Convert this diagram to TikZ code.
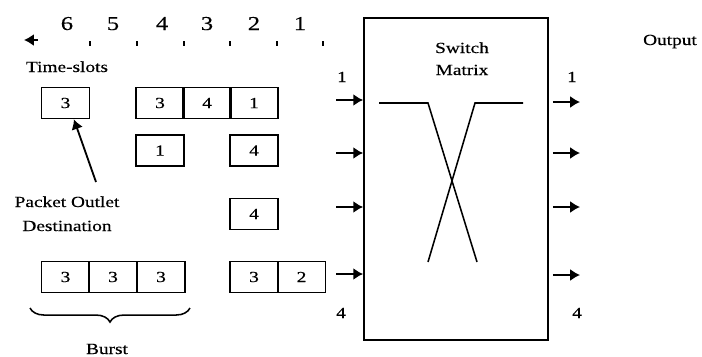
\documentclass[tikz,border=0pt]{standalone}
\usepackage{fontspec}
\setmainfont{Liberation Serif}[FakeStretch=1.25,FakeBold=0.4]
\usetikzlibrary{arrows.meta,decorations.pathreplacing}
\begin{document}
\begin{tikzpicture}[x=0.025cm,y=-0.025cm,
  font=\fontsize{11}{13}\selectfont,
  lbl/.style={anchor=base,inner sep=0pt},
  bignum/.style={lbl,font=\fontsize{14}{16}\selectfont},
  cell/.style={draw,line width=1.1pt,minimum width=1.2cm,minimum height=0.775cm,inner sep=0pt},
  arr/.style={line width=1.3pt,-{Latex[length=7pt,width=8.5pt]}},
  wire/.style={line width=1.1pt},
  tick/.style={line width=1.1pt}]
\useasboundingbox (0,0) rectangle (702,356);

% time axis
\foreach \n/\x in {6/67,5/113,4/162,3/207,2/254,1/300}
  \node[bignum] (n\n) at (\x,30) {\n};
\foreach \x in {90,137,184,230,277,323}
  \draw[tick] (\x,41) -- (\x,46);
\coordinate (ts0) at (38,40);
\coordinate (ts1) at (24,40);
\draw[arr] (ts0) -- (ts1);
\node[lbl] (tslots) at (67,72) {Time-slots};

% queued packets
\node[cell] (p0) at (65.5,103) {3};
\node[cell] (a1) at (160,103) {3};
\node[cell] (a2) at (207,103) {4};
\node[cell] (a3) at (254,103) {1};
\node[cell] (b1) at (160,150.5) {1};
\node[cell] (b2) at (254,150.5) {4};
\node[cell] (c1) at (254,214) {4};
\node[cell] (d1) at (65.5,277) {3};
\node[cell] (d2) at (113,277) {3};
\node[cell] (d3) at (161,277) {3};
\node[cell] (e1) at (254,277) {3};
\node[cell] (e2) at (301.5,277) {2};

% destination note
\node[lbl] (pod1) at (67,207) {Packet Outlet};
\node[lbl] (pod2) at (67,231) {Destination};
\coordinate (podtail) at (96,182);
\draw[arr] (podtail) -- ([xshift=0.21cm]p0.south);

% burst brace
\coordinate (br0) at (190,308);
\coordinate (br1) at (30,308);
\draw[decorate,decoration={brace,amplitude=10pt},line width=1.1pt] (br0) -- (br1);
\node[lbl] (burst) at (107,354) {Burst};

% switch matrix
\node[draw,line width=1.2pt,minimum width=4.6cm,minimum height=8.05cm,inner sep=0pt] (sw) at (456,179) {};
\node[lbl] (swt1) at (462,53) {Switch};
\node[lbl] (swt2) at (462,75) {Matrix};
\draw[wire] (379,103) -- (428,103) -- (477,262);
\draw[wire] (523,103) -- (475,103) -- (428,262);

% inputs and outputs
\foreach \y [count=\i] in {100,153,207,274} {
  \coordinate (in\i) at (336,\y);
  \draw[arr] (in\i) -- (in\i -| sw.west);
}
\foreach \y [count=\i] in {102,153,207,275} {
  \coordinate (out\i) at (580,\y);
  \draw[arr] ([xshift=0.1cm]sw.east |- out\i) -- (out\i);
}
\node[lbl] (inl1) at (342,82) {1};
\node[lbl] (inl4) at (341,318) {4};
\node[lbl] (outl1) at (572,82) {1};
\node[lbl] (outl4) at (577,318) {4};
\node[lbl] (outtxt) at (670,45) {Output};
\end{tikzpicture}
\end{document}
